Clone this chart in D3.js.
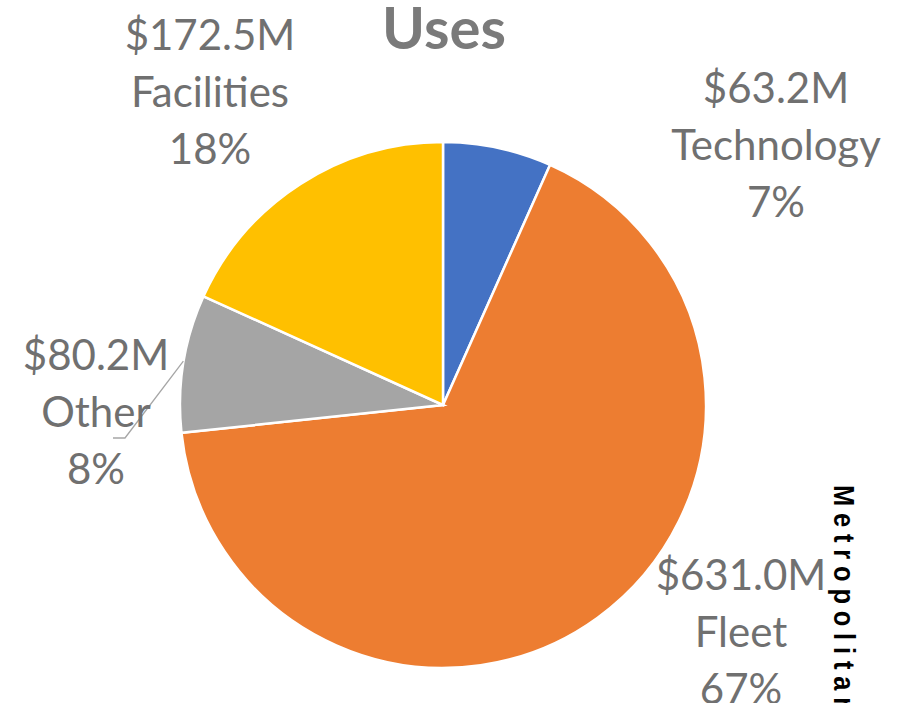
<!DOCTYPE html>
<html>
<head>
<meta charset="utf-8">
<script src="https://cdn.jsdelivr.net/npm/d3@7"></script>
<style>
  html, body { margin: 0; padding: 0; background: #fff; overflow: hidden; }
  svg { display: block; }
</style>
</head>
<body>
<svg id="chart" width="904" height="703"></svg>
<script>
'use strict';

// data
var categories = ['Technology', 'Fleet', 'Other', 'Facilities'];
var amounts = [63.2, 631.0, 80.2, 172.5];   // $M
var colors = ['#4472C4', '#ED7D31', '#A5A5A5', '#FFC000'];

// label centres (layout only), first baseline
var labelPos = [[776, 103], [741, 590], [96, 370], [210, 50]];

var svg = d3.select('#chart');
var cx = 443, cy = 405, radius = 263;

var total = d3.sum(amounts);
var slices = categories.map(function(c, i) {
    return { name: c, value: amounts[i], color: colors[i] };
});

var pie = d3.pie()
    .sort(null)
    .value(function(d) { return d.value; });

var arc = d3.arc().innerRadius(0).outerRadius(radius);
var edgeArc = d3.arc().innerRadius(radius).outerRadius(radius);

var g = svg.append('g').attr('transform', 'translate(' + cx + ',' + cy + ')');

var arcs = pie(slices);

g.selectAll('.slice')
    .data(arcs)
    .enter().append('path')
    .attr('class', 'slice')
    .attr('d', arc)
    .attr('fill', function(d) { return d.data.color; })
    .attr('stroke', '#fff')
    .attr('stroke-width', 2.5);

// leader line for the small "Other" slice
var other = arcs[2];
var p0 = edgeArc.centroid(other);
svg.append('polyline')
    .attr('points', [
        [cx + p0[0], cy + p0[1] - 2],
        [125, 438],
        [113, 438]
    ].map(function(p) { return p.join(','); }).join(' '))
    .attr('fill', 'none')
    .attr('stroke', '#A6A6A6')
    .attr('stroke-width', 1.3);

var fmt = d3.format('.1f');
var pct = d3.format('.0%');

var labels = svg.selectAll('.label')
    .data(arcs)
    .enter().append('text')
    .attr('class', 'label')
    .attr('text-anchor', 'middle')
    .attr('font-family', 'Lato, "Open Sans", sans-serif')
    .attr('font-size', 42)
    .attr('fill', '#707070');

labels.each(function(d, i) {
    var t = d3.select(this);
    var lines = ['$' + fmt(d.data.value) + 'M', d.data.name, pct(d.data.value / total)];
    lines.forEach(function(s, k) {
        t.append('tspan')
            .attr('x', labelPos[i][0])
            .attr('y', labelPos[i][1] + k * 57)
            .text(s);
    });
});

// title
svg.append('text')
    .attr('x', 444)
    .attr('y', 49)
    .attr('text-anchor', 'middle')
    .attr('font-family', 'Lato, "Open Sans", sans-serif')
    .attr('font-weight', 'bold')
    .attr('font-size', 58)
    .attr('fill', '#7A7A7A')
    .text('Uses');

// side text, rotated and cut off at the bottom
svg.append('text')
    .attr('transform', 'translate(834,485) rotate(90) scale(0.85,1)')
    .attr('font-family', '"Liberation Sans", Arial, sans-serif')
    .attr('font-weight', 'bold')
    .attr('font-size', 30)
    .attr('letter-spacing', 8)
    .attr('fill', '#000')
    .text('Metropolitan');
</script>
</body>
</html>
